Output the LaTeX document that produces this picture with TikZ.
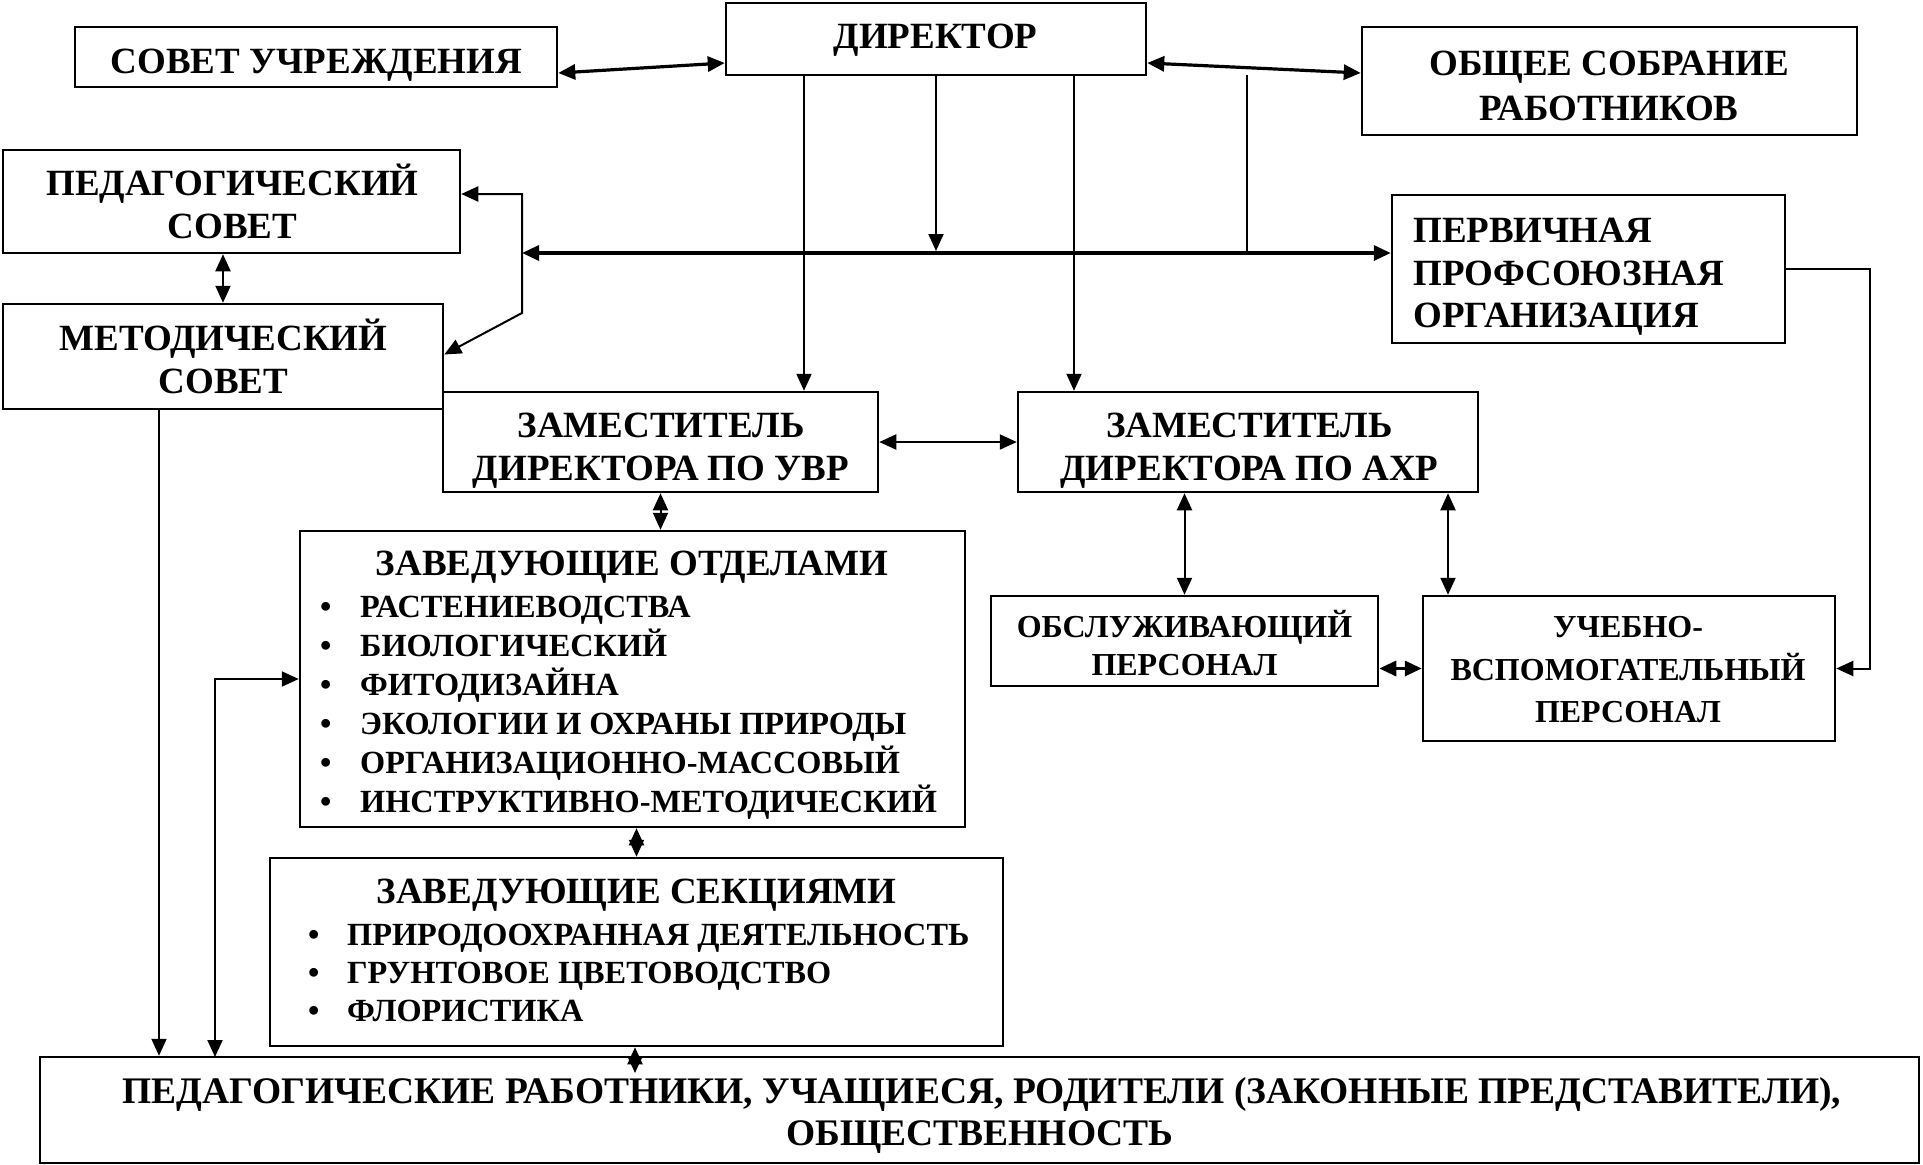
\documentclass[tikz,border=0pt]{standalone}
\usepackage{fontspec}
\setmainfont{Liberation Serif}
\usetikzlibrary{arrows.meta,calc}
\tikzset{tp/.tip={Triangle[length=17pt,width=15pt]}}
\begin{document}
\begin{tikzpicture}[x=1pt,y=-1pt,
  box/.style={draw, line width=2.5pt, inner sep=0pt},
  big/.style={anchor=base, inner sep=0pt, font=\bfseries\fontsize{37}{43}\selectfont},
  bigw/.style={anchor=base west, inner sep=0pt, font=\bfseries\fontsize{37}{43}\selectfont},
  mid/.style={anchor=base, inner sep=0pt, font=\bfseries\fontsize{32}{38}\selectfont},
  item/.style={anchor=base west, inner sep=0pt, font=\bfseries\fontsize{32.3}{38}\selectfont},
  lnk/.style={line width=2pt},
  lnkb/.style={line width=3.2pt}]
\useasboundingbox (0,0) rectangle (1923,1165);

% boxes
\node[box, minimum width=482pt, minimum height=60pt] (sovet) at (316,57) {};
\node[box, minimum width=420pt, minimum height=72pt] (dir) at (936,39) {};
\node[box, minimum width=495pt, minimum height=108pt] (obsh) at (1609.5,81) {};
\node[box, minimum width=457pt, minimum height=103pt] (ped) at (231.5,201.5) {};
\node[box, minimum width=440pt, minimum height=105pt] (met) at (223,356.5) {};
\node[box, minimum width=393pt, minimum height=148pt] (perv) at (1588.5,269) {};
\node[box, minimum width=435pt, minimum height=100pt] (uvr) at (660.5,442) {};
\node[box, minimum width=460pt, minimum height=100pt] (ahr) at (1248,442) {};
\node[box, minimum width=387pt, minimum height=90pt] (obsl) at (1184.5,641) {};
\node[box, minimum width=412pt, minimum height=145pt] (ucheb) at (1629,668.5) {};
\node[box, minimum width=665pt, minimum height=296pt] (zavotd) at (632.5,679) {};
\node[box, minimum width=733pt, minimum height=188pt] (zavsek) at (636.5,952) {};
\node[box, minimum width=1879pt, minimum height=106pt] (bot) at (979.5,1110) {};

% texts
\node[big] (sovet-t) at (316.5,73) {СОВЕТ УЧРЕЖДЕНИЯ};
\node[big] (dir-t) at (935.5,48) {ДИРЕКТОР};
\node[big] (obsh-t1) at (1609,75) {ОБЩЕЕ СОБРАНИЕ};
\node[big] (obsh-t2) at (1609,120) {РАБОТНИКОВ};
\node[big] (ped-t1) at (232.5,195) {ПЕДАГОГИЧЕСКИЙ};
\node[big] (ped-t2) at (232.5,238) {СОВЕТ};
\node[big] (met-t1) at (223.5,350) {МЕТОДИЧЕСКИЙ};
\node[big] (met-t2) at (223.5,393) {СОВЕТ};
\node[bigw] (perv-t1) at (1413,242) {ПЕРВИЧНАЯ};
\node[bigw] (perv-t2) at (1413,285) {ПРОФСОЮЗНАЯ};
\node[bigw] (perv-t3) at (1413,327) {ОРГАНИЗАЦИЯ};
\node[big] (uvr-t1) at (661,437) {ЗАМЕСТИТЕЛЬ};
\node[big] (uvr-t2) at (661,480) {ДИРЕКТОРА ПО УВР};
\node[big] (ahr-t1) at (1249.5,437) {ЗАМЕСТИТЕЛЬ};
\node[big] (ahr-t2) at (1249.5,480) {ДИРЕКТОРА ПО АХР};
\node[mid] (obsl-t1) at (1184.5,637) {ОБСЛУЖИВАЮЩИЙ};
\node[mid] (obsl-t2) at (1184.5,675) {ПЕРСОНАЛ};
\node[mid] (ucheb-t1) at (1628,637) {УЧЕБНО-};
\node[mid] (ucheb-t2) at (1628,680) {ВСПОМОГАТЕЛЬНЫЙ};
\node[mid] (ucheb-t3) at (1628,722) {ПЕРСОНАЛ};

\node[big] (zavotd-t) at (632,575) {ЗАВЕДУЮЩИЕ ОТДЕЛАМИ};
\node[item] (zo1) at (320,617) {\makebox[40pt][l]{•}РАСТЕНИЕВОДСТВА};
\node[item] (zo2) at (320,656) {\makebox[40pt][l]{•}БИОЛОГИЧЕСКИЙ};
\node[item] (zo3) at (320,695) {\makebox[40pt][l]{•}ФИТОДИЗАЙНА};
\node[item] (zo4) at (320,734) {\makebox[40pt][l]{•}ЭКОЛОГИИ И ОХРАНЫ ПРИРОДЫ};
\node[item] (zo5) at (320,773) {\makebox[40pt][l]{•}ОРГАНИЗАЦИОННО-МАССОВЫЙ};
\node[item] (zo6) at (320,812) {\makebox[40pt][l]{•}ИНСТРУКТИВНО-МЕТОДИЧЕСКИЙ};

\node[big] (zavsek-t) at (636.5,903) {ЗАВЕДУЮЩИЕ СЕКЦИЯМИ};
\node[item] (zs1) at (308,945) {\makebox[39pt][l]{•}ПРИРОДООХРАННАЯ ДЕЯТЕЛЬНОСТЬ};
\node[item] (zs2) at (308,983) {\makebox[39pt][l]{•}ГРУНТОВОЕ ЦВЕТОВОДСТВО};
\node[item] (zs3) at (308,1021) {\makebox[39pt][l]{•}ФЛОРИСТИКА};

\node[big] (bot-t1) at (982,1103) {\fontsize{37.5}{43}\selectfont ПЕДАГОГИЧЕСКИЕ РАБОТНИКИ, УЧАЩИЕСЯ, РОДИТЕЛИ (ЗАКОННЫЕ ПРЕДСТАВИТЕЛИ),};
\node[big] (bot-t2) at (980,1145) {\fontsize{37.5}{43}\selectfont ОБЩЕСТВЕННОСТЬ};

% helper coordinates
\coordinate (dA) at ([xshift=-132pt]dir.south);
\coordinate (dB) at ([xshift=138pt]dir.south);
\coordinate (oJ) at (1247,75);
\coordinate (vTop) at (522,194);
\coordinate (vBot) at (522,313);
\coordinate (hy) at (0,253);
\coordinate (aU) at ([xshift=200pt]ahr.south);
\coordinate (mB) at ([xshift=-64pt]met.south);
\coordinate (bx) at (215,1057);
\coordinate (bd) at (635,1073);

% connectors
\draw[lnkb,tp-tp] ([yshift=-16pt]sovet.east) -- ([yshift=-24pt]dir.west);
\draw[lnkb,tp-tp] ([yshift=-24pt]dir.east) -- ([yshift=8pt]obsh.west);
\draw[lnk,-tp] (dA) -- (dA |- uvr.north);
\draw[lnk,-tp] (dB) -- (dB |- ahr.north);
\draw[lnk,-tp] (dir.south) -- ($(dir.south |- hy)+(0,-2)$);
\draw[lnk] (oJ) -- (oJ |- hy);
\draw[lnkb,tp-tp] (vTop |- hy) -- (perv.west |- hy);
\draw[lnk,tp-tp] (ped.east |- vTop) -- (vTop) -- (vBot) -- ([yshift=2pt]met.east);
\draw[lnk,tp-tp] (met.north |- ped.south) -- (met.north);
\draw[lnk,tp-tp] (uvr.east) -- (ahr.west);
\draw[lnk,tp-tp] (obsl.north |- ahr.south) -- (obsl.north);
\draw[lnk,tp-tp] (aU) -- (aU |- ucheb.north);
\draw[lnkb,tp-tp] (obsl.east |- ucheb.west) -- (ucheb.west);
\draw[lnk,-tp] (perv.east) -- ++(84,0) |- (ucheb.east);
\draw[lnk,tp-tp] (uvr.south) -- (uvr.south |- zavotd.north);
\draw[lnk,tp-tp] (zavsek.north |- zavotd.south) -- (zavsek.north);
\draw[lnk,tp-tp] (zavsek.south -| bd) -- (bd);
\draw[lnk,-tp] (mB) -- (mB |- bot.north);
\draw[lnk,tp-tp] (zavotd.west) -| (bx);
\end{tikzpicture}
\end{document}
